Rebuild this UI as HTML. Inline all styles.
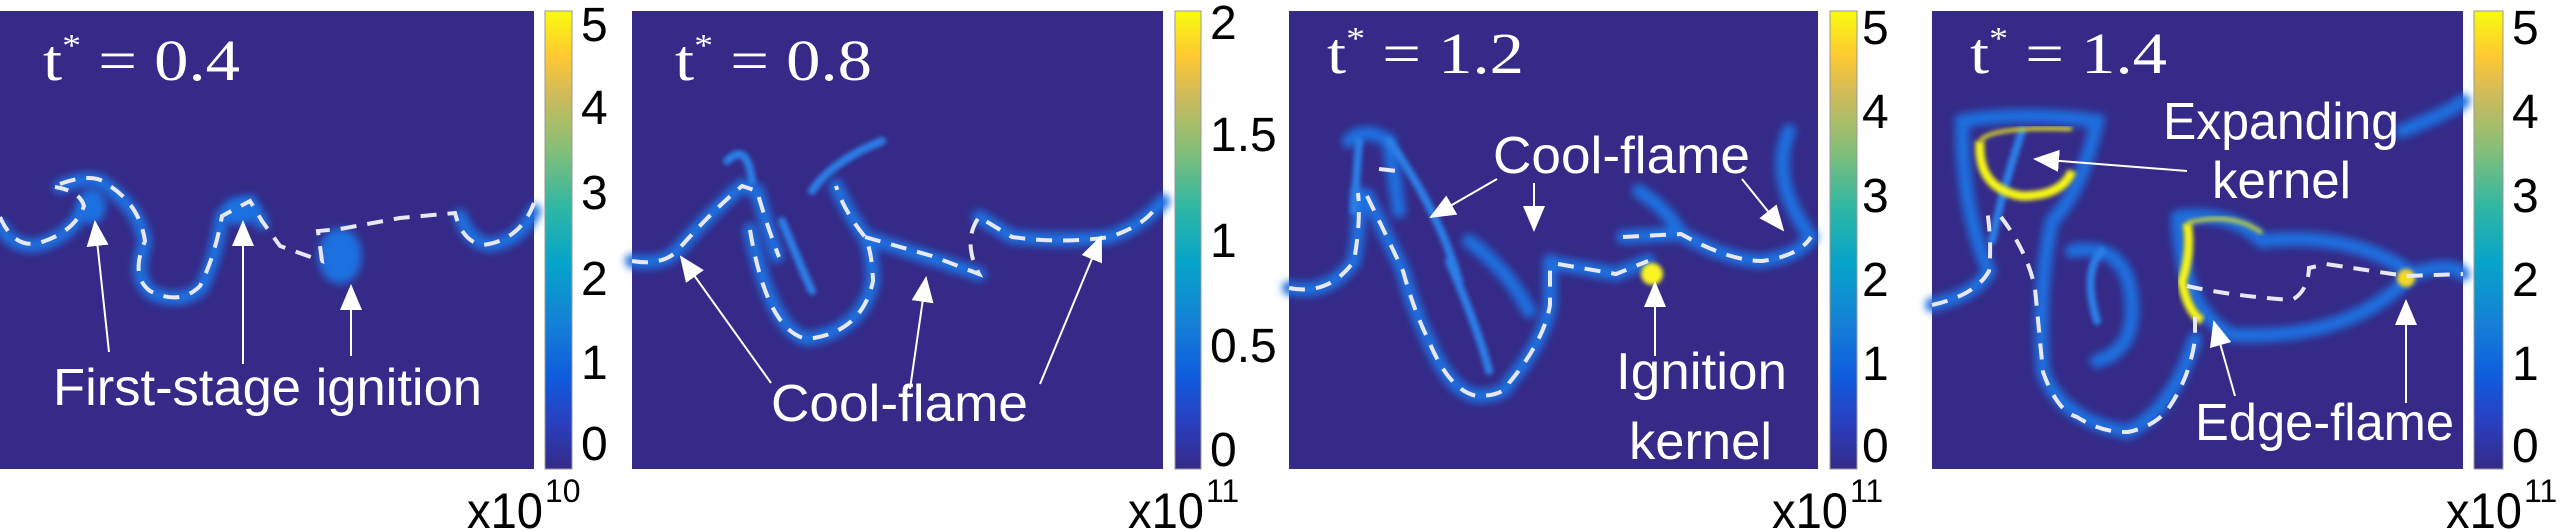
<!DOCTYPE html>
<html><head><meta charset="utf-8"><style>html,body{margin:0;padding:0;background:#fff}svg{display:block}</style></head>
<body>
<svg width="2560" height="531" viewBox="0 0 2560 531" xmlns="http://www.w3.org/2000/svg">
<defs>
<linearGradient id="parula" x1="0" y1="1" x2="0" y2="0">
<stop offset="0" stop-color="#352a87"/><stop offset="0.1" stop-color="#2a3fbf"/><stop offset="0.2" stop-color="#0f5cdd"/><stop offset="0.32" stop-color="#1481d6"/><stop offset="0.45" stop-color="#06a4ca"/><stop offset="0.57" stop-color="#2eb7a4"/><stop offset="0.7" stop-color="#87bf77"/><stop offset="0.82" stop-color="#d1bb59"/><stop offset="0.9" stop-color="#fec832"/><stop offset="1" stop-color="#f9fb0e"/>
</linearGradient>
<filter id="b1" x="-20%" y="-20%" width="140%" height="140%"><feGaussianBlur stdDeviation="4"/></filter>
<filter id="b2" x="-20%" y="-20%" width="140%" height="140%"><feGaussianBlur stdDeviation="2"/></filter>
<marker id="ah2" markerWidth="26" markerHeight="22" refX="24" refY="11" orient="auto" markerUnits="userSpaceOnUse"><path d="M0,0 L26,11 L0,22 z" fill="#fff"/></marker>
</defs>
<style>
.bg{fill:#352a87}
.dash{fill:none;stroke:#e8e8f4;stroke-width:4;stroke-dasharray:16 11}
.glow{fill:none;stroke:#1e6fe0;stroke-width:14;filter:url(#b1);stroke-linecap:round}
.glow2{fill:none;stroke:#2a7fe8;stroke-width:8;filter:url(#b2);stroke-linecap:round}
.arr{stroke:#fff;stroke-width:2;marker-end:url(#ah2);fill:none}
.lbl{font-family:"Liberation Sans",sans-serif;fill:#fff}
.tt{font-family:"Liberation Serif",serif;fill:#fff;font-size:58px}
.ck{font-family:"Liberation Sans",sans-serif;fill:#000;font-size:48px}
.xl{font-family:"Liberation Sans",sans-serif;fill:#000;font-size:50px}
.xs{font-family:"Liberation Sans",sans-serif;fill:#000;font-size:32px}
.cb{fill:url(#parula);stroke:#999;stroke-width:1}
</style>

<!-- Panel 1 -->
<g transform="translate(0,11)">
<rect class="bg" width="534" height="458"/>
<path class="glow" d="M0,215 Q15,240 42,233 Q75,222 84,195 M60,176 Q95,160 110,178 Q140,200 145,232 Q132,268 152,282 Q182,295 202,276 Q216,246 222,206 L250,192 L262,212 M460,205 Q470,232 490,234 Q520,230 534,200"/>
<ellipse cx="240" cy="200" rx="18" ry="14" fill="#1e70e0" filter="url(#b1)"/>
<ellipse cx="340" cy="245" rx="22" ry="28" fill="#1e70e0" filter="url(#b1)"/>
<ellipse cx="92" cy="195" rx="14" ry="18" fill="#1e70e0" filter="url(#b1)"/>
<path class="dash" d="M0,206 Q15,240 42,231 Q75,220 84,195 Q80,180 55,176 M60,173 Q95,160 110,175 Q140,195 145,230 Q130,265 150,280 Q180,295 200,275 Q215,245 222,205 L250,190 L262,210 L280,235 L322,250 L318,220 L340,218 L400,207 L455,202 Q462,230 482,234 Q520,230 534,192"/>
<line class="arr" x1="109" y1="341" x2="95" y2="211"/>
<line class="arr" x1="243" y1="353" x2="243" y2="211"/>
<line class="arr" x1="351" y1="345" x2="351" y2="275"/>
<text class="lbl" x="53" y="394" font-size="52" textLength="429" lengthAdjust="spacingAndGlyphs">First-stage ignition</text>
<text class="tt" x="43" y="69" textLength="197" lengthAdjust="spacingAndGlyphs">t<tspan font-size="32" dy="-24">*</tspan><tspan dy="24"> = 0.4</tspan></text>
</g>
<rect class="cb" x="545" y="11" width="27" height="458"/>
<g class="ck"><text x="581" y="41">5</text><text x="581" y="124">4</text><text x="581" y="209">3</text><text x="581" y="295">2</text><text x="581" y="379">1</text><text x="581" y="460">0</text></g>
<text class="xl" x="467" y="528" textLength="76" lengthAdjust="spacingAndGlyphs">x10</text><text class="xs" x="545" y="502">10</text>

<!-- Panel 2 -->
<g transform="translate(632,11)">
<rect class="bg" width="531" height="458"/>
<path class="glow" d="M0,250 Q30,255 45,240 Q80,200 110,175 L125,180 Q135,215 145,245 M118,219 Q140,320 175,328 Q230,320 241,270 Q240,240 233,226 Q215,200 204,175 M233,226 L347,263 M347,206 L380,226 Q430,231 478,226 Q510,215 531,190"/>
<path class="glow2" d="M95,150 Q115,130 120,170 M180,180 Q200,150 250,130 M150,210 Q175,270 180,280"/>
<path class="dash" d="M0,250 Q30,255 45,240 Q80,200 110,175 L125,180 Q135,215 147,246 M118,219 Q135,320 175,328 Q230,322 241,270 Q240,240 233,226 Q212,200 204,175 M233,226 L300,245 L347,263 Q330,230 347,206 L380,226 Q430,233 478,226 Q510,215 522,199"/>
<line class="arr" x1="139" y1="372" x2="49" y2="246"/>
<line class="arr" x1="278" y1="378" x2="294" y2="267"/>
<line class="arr" x1="408" y1="373" x2="469" y2="226"/>
<text class="lbl" x="139" y="410" font-size="52" textLength="257" lengthAdjust="spacingAndGlyphs">Cool-flame</text>
<text class="tt" x="43" y="69" textLength="197" lengthAdjust="spacingAndGlyphs">t<tspan font-size="32" dy="-24">*</tspan><tspan dy="24"> = 0.8</tspan></text>
</g>
<rect class="cb" x="1175" y="11" width="26" height="458"/>
<g class="ck"><text x="1210" y="39">2</text><text x="1210" y="151">1.5</text><text x="1210" y="257">1</text><text x="1210" y="362">0.5</text><text x="1210" y="466">0</text></g>
<text class="xl" x="1128" y="528" textLength="76" lengthAdjust="spacingAndGlyphs">x10</text><text class="xs" x="1206" y="502">11</text>

<!-- Panel 3 -->
<g transform="translate(1289,11)">
<rect class="bg" width="529" height="458"/>
<path class="glow" d="M0,277 Q40,285 65,250 Q72,210 69,182 M78,185 Q100,230 114,260 Q125,300 139,328 Q160,380 188,385 Q215,385 220,372 Q255,330 261,294 L261,250 M269,253 L327,263 L359,250 M334,226 L392,223 Q440,250 473,250 Q510,245 522,226 M60,130 Q75,115 100,130 L110,200 M180,230 Q220,260 240,300 M350,180 Q380,200 392,223 M500,120 Q480,170 522,226"/>
<path class="glow2" d="M70,130 L65,200 M100,130 Q150,200 170,270 M160,250 Q190,320 200,360"/>
<circle cx="363" cy="263" r="11" fill="#f9f520" filter="url(#b2)"/>
<path class="dash" d="M0,277 Q40,285 65,250 Q72,210 69,182 M90,158 L108,160 M78,185 Q100,230 114,260 Q125,300 139,328 Q160,380 188,385 Q215,385 220,372 Q255,330 261,294 L261,250 M269,253 L327,263 L359,250 M334,226 L392,223 Q440,250 473,250 Q510,245 522,226"/>
<line class="arr" x1="208" y1="168" x2="142" y2="206"/>
<line class="arr" x1="245" y1="172" x2="245" y2="219"/>
<line class="arr" x1="453" y1="168" x2="494" y2="219"/>
<line class="arr" x1="366" y1="345" x2="366" y2="272"/>
<text class="lbl" x="204" y="162" font-size="52" textLength="257" lengthAdjust="spacingAndGlyphs">Cool-flame</text>
<text class="lbl" x="327" y="378" font-size="52" textLength="171" lengthAdjust="spacingAndGlyphs">Ignition</text>
<text class="lbl" x="340" y="448" font-size="52" textLength="143" lengthAdjust="spacingAndGlyphs">kernel</text>
<text class="tt" x="38" y="62" textLength="197" lengthAdjust="spacingAndGlyphs">t<tspan font-size="32" dy="-24">*</tspan><tspan dy="24"> = 1.2</tspan></text>
</g>
<rect class="cb" x="1830" y="11" width="27" height="458"/>
<g class="ck"><text x="1862" y="44">5</text><text x="1862" y="128">4</text><text x="1862" y="212">3</text><text x="1862" y="296">2</text><text x="1862" y="380">1</text><text x="1862" y="462">0</text></g>
<text class="xl" x="1772" y="528" textLength="76" lengthAdjust="spacingAndGlyphs">x10</text><text class="xs" x="1850" y="502">11</text>

<!-- Panel 4 -->
<g transform="translate(1932,11)">
<rect class="bg" width="531" height="458"/>
<path class="glow" d="M0,294 Q44,284 57,260 Q30,200 30,110 Q90,100 165,110 Q150,180 120,210 Q105,280 111,361 Q130,410 196,421 Q240,400 263,328 M140,240 Q200,230 200,300 Q200,340 165,350 M246,206 Q300,200 330,230 Q420,220 480,263 Q420,330 300,324 Q250,300 246,206 M480,263 Q520,250 531,263 M470,120 Q520,100 531,90"/>
<path class="glow2" d="M90,120 Q70,180 60,230 M170,240 Q150,260 165,310"/>
<path d="M48,130 Q45,178 90,185 Q130,185 140,160" fill="none" stroke="#f5f516" stroke-width="9" filter="url(#b2)"/>
<path d="M48,130 Q60,115 140,118" fill="none" stroke="#e8e020" stroke-width="4" filter="url(#b2)"/>
<path d="M255,212 Q260,240 250,270 Q255,300 270,310" fill="none" stroke="#f5f516" stroke-width="9" filter="url(#b2)"/>
<path d="M255,212 Q300,200 330,222" fill="none" stroke="#c8d83a" stroke-width="4" filter="url(#b2)"/>
<circle cx="474" cy="267" r="9" fill="#f5d820" filter="url(#b2)"/>
<path class="dash" d="M0,294 Q44,284 57,260 Q60,230 55,199 M69,206 Q95,240 103,277 Q108,330 111,361 Q125,400 145,406 Q170,422 196,421 Q225,415 238,395 Q258,365 263,328 L263,304 M255,275 Q300,285 360,289 Q376,280 377,257 L394,253 Q440,260 474,265 L531,263"/>
<line class="arr" x1="255" y1="160" x2="103" y2="148"/>
<line class="arr" x1="303" y1="385" x2="282" y2="311"/>
<line class="arr" x1="474" y1="392" x2="474" y2="290"/>
<text class="lbl" x="231" y="128" font-size="52" textLength="236" lengthAdjust="spacingAndGlyphs">Expanding</text>
<text class="lbl" x="280" y="187" font-size="52" textLength="139" lengthAdjust="spacingAndGlyphs">kernel</text>
<text class="lbl" x="263" y="429" font-size="52" textLength="259" lengthAdjust="spacingAndGlyphs">Edge-flame</text>
<text class="tt" x="38" y="62" textLength="197" lengthAdjust="spacingAndGlyphs">t<tspan font-size="32" dy="-24">*</tspan><tspan dy="24"> = 1.4</tspan></text>
</g>
<rect class="cb" x="2474" y="11" width="29" height="458"/>
<g class="ck"><text x="2512" y="44">5</text><text x="2512" y="128">4</text><text x="2512" y="212">3</text><text x="2512" y="296">2</text><text x="2512" y="380">1</text><text x="2512" y="462">0</text></g>
<text class="xl" x="2446" y="528" textLength="76" lengthAdjust="spacingAndGlyphs">x10</text><text class="xs" x="2524" y="502">11</text>
</svg>
</body></html>
